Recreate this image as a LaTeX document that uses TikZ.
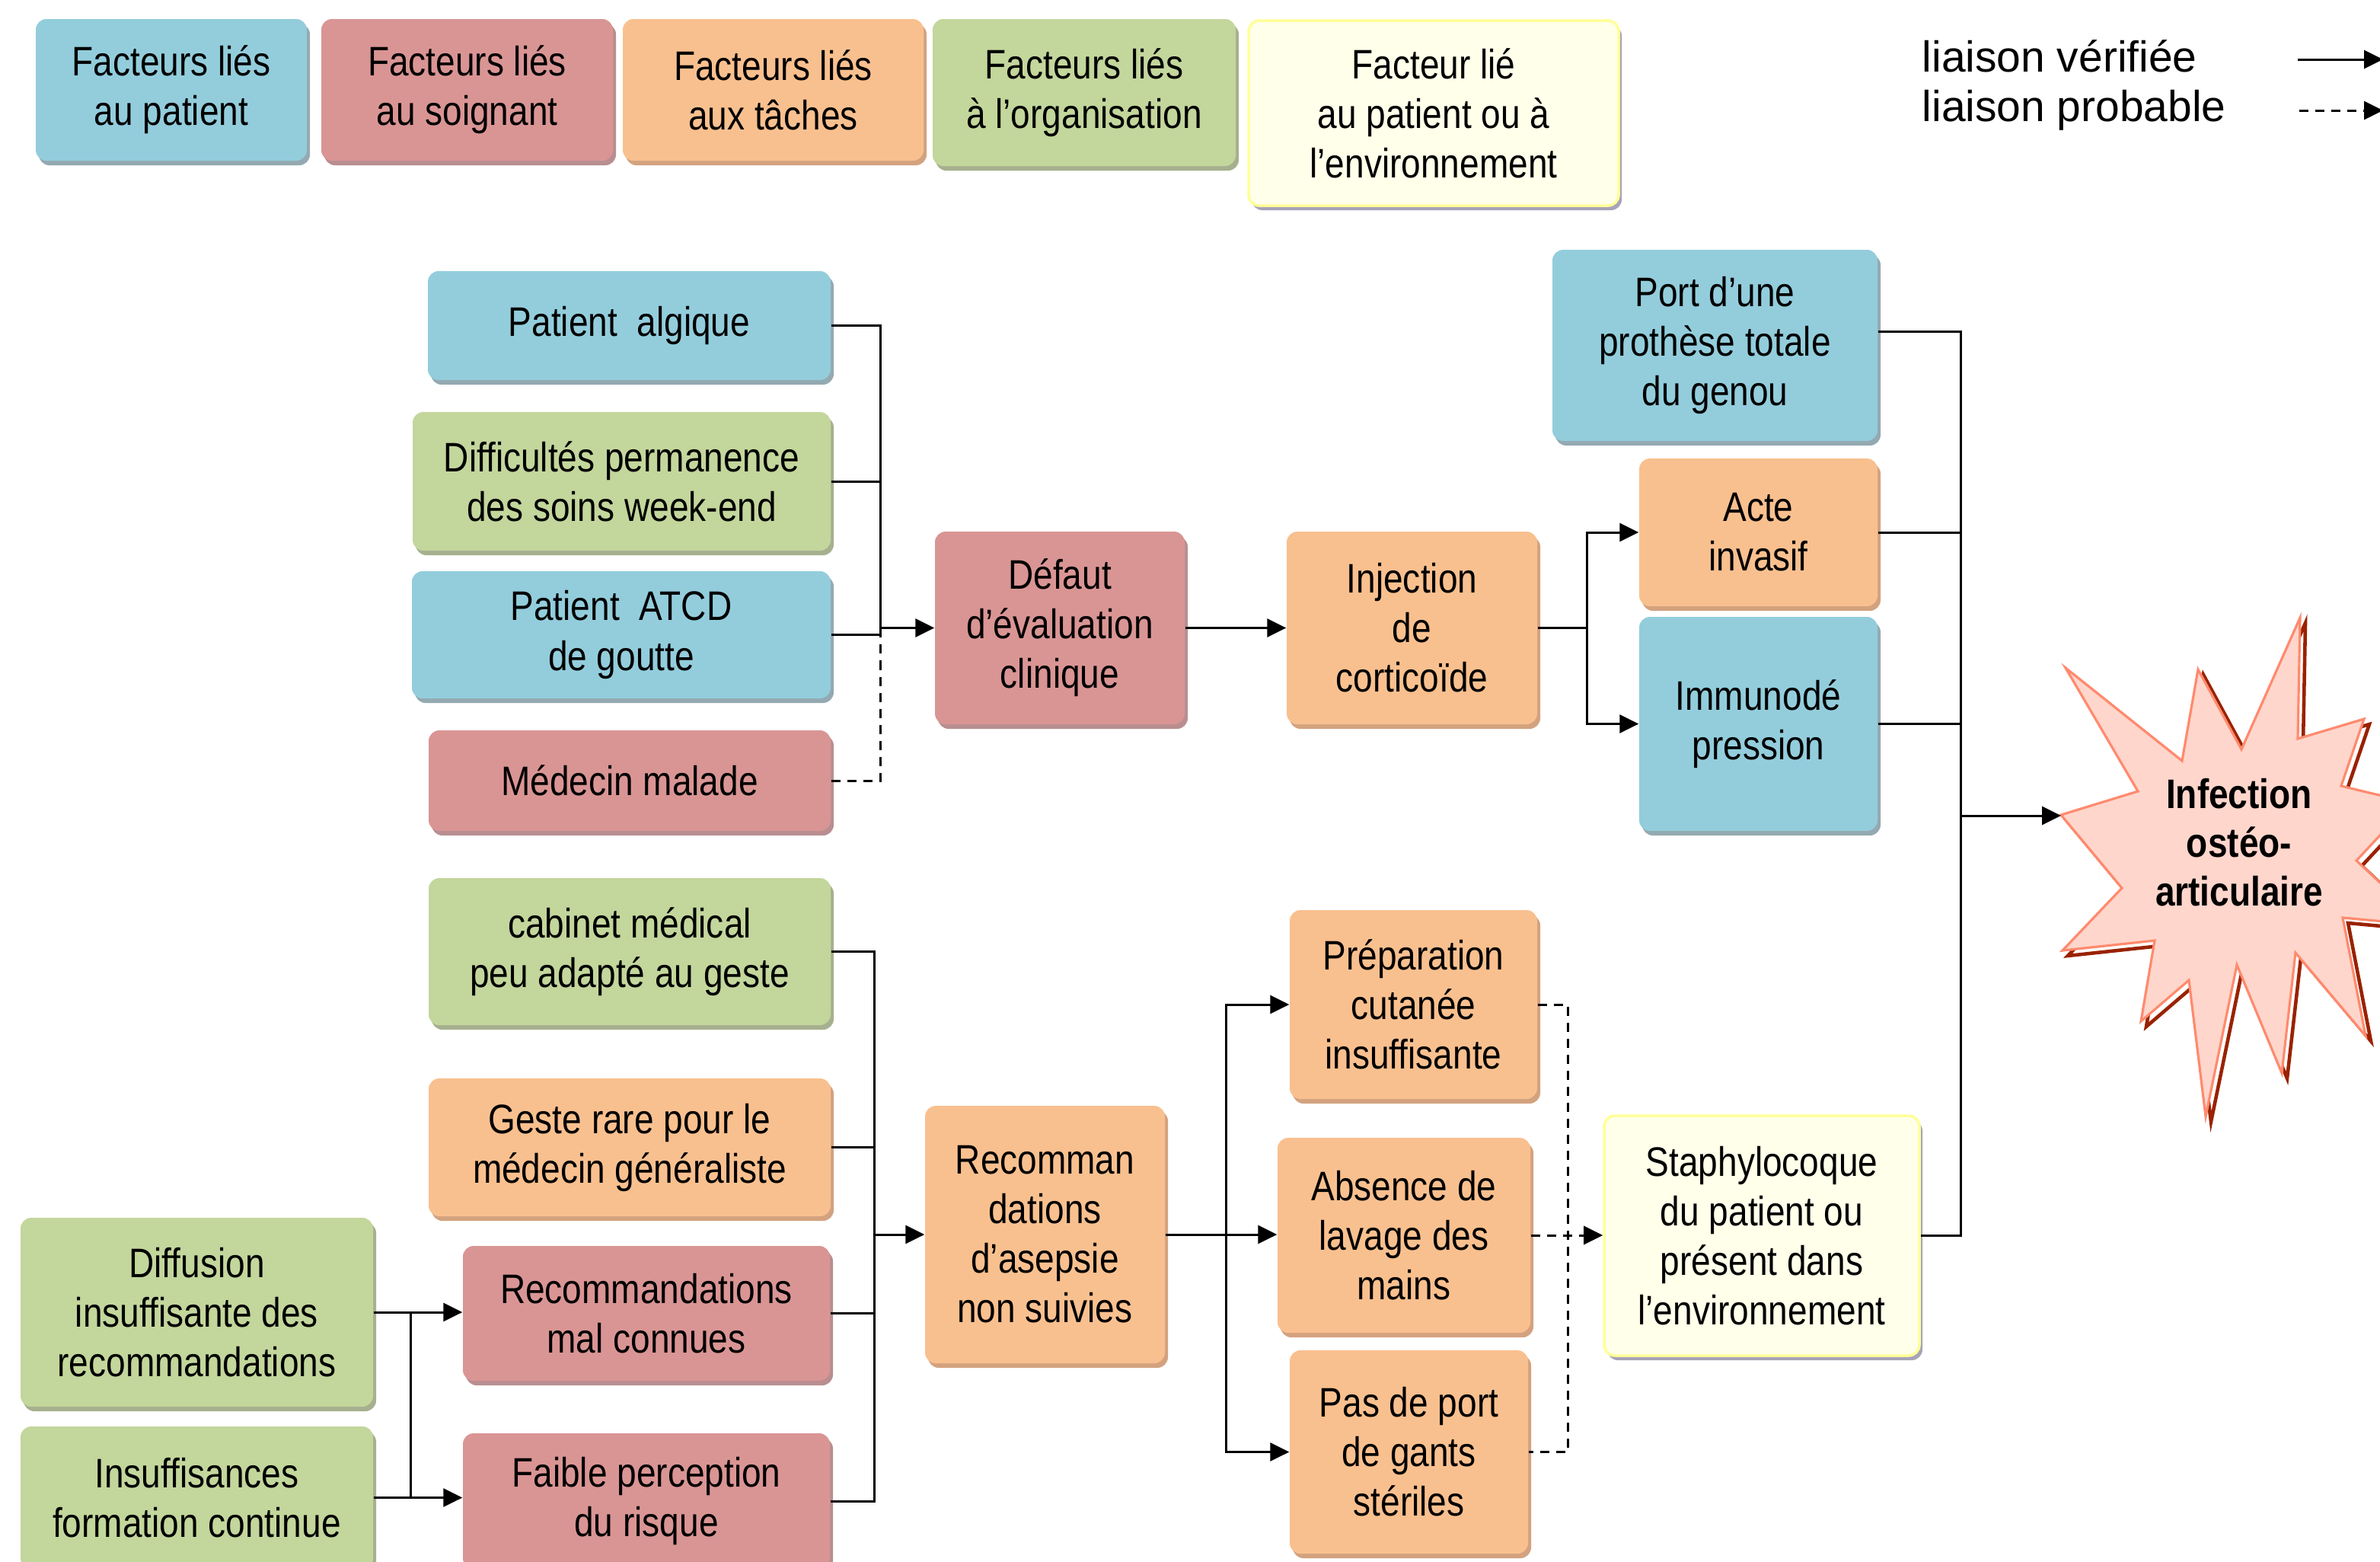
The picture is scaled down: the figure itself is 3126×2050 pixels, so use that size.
\documentclass[tikz,border=0pt]{standalone}
\usepackage{fontspec}
\setmainfont{Liberation Sans}
\newfontfamily\boxfont[FakeStretch=0.85]{Liberation Sans}
\usetikzlibrary{positioning,calc,shadows,arrows.meta}

\definecolor{patient}{HTML}{93CDDC}
\definecolor{patientsh}{HTML}{94A9B1}
\definecolor{soignant}{HTML}{D99594}
\definecolor{soignantsh}{HTML}{B98E90}
\definecolor{taches}{HTML}{F9C08F}
\definecolor{tachessh}{HTML}{D3A27F}
\definecolor{orga}{HTML}{C3D69C}
\definecolor{orgash}{HTML}{A6B08F}
\definecolor{envfill}{HTML}{FFFFEA}
\definecolor{envline}{HTML}{FFFF99}
\definecolor{envsh}{HTML}{A7A3B9}
\definecolor{starfill}{HTML}{FFD6CC}
\definecolor{starline}{HTML}{FF8A6E}
\definecolor{starshadow}{HTML}{992200}

\newcommand{\starpath}{(2707,1070) -- (2808,1039) -- (2713,877) -- (2866,999) -- (2887,879) -- (2944,984) -- (3021,811) -- (3018,970) -- (3105,944) -- (3075,1032) -- (3166,1054) -- (3095,1130) -- (3186,1215) -- (3077,1205) -- (3107,1360) -- (3015,1251) -- (2997,1409) -- (2938,1267) -- (2897,1466) -- (2875,1287) -- (2812,1341) -- (2830,1235) -- (2709,1248) -- (2787,1166) -- cycle}

\begin{document}
\begin{tikzpicture}[x=0.01cm,y=-0.01cm,>={Triangle[length=0.25cm,width=0.24cm]},
	txt/.style={font=\boxfont\fontsize{15.4pt}{18.5pt}\selectfont,align=center},
	boxsize/.style 2 args={minimum width=#1*0.01cm,minimum height=#2*0.01cm},
	box/.style={txt,rounded corners=0.14cm,inner sep=0pt},
	pat/.style={box,fill=patient,drop shadow={shadow xshift=0.04cm,shadow yshift=-0.06cm,fill=patientsh,opacity=1}},
	soi/.style={box,fill=soignant,drop shadow={shadow xshift=0.04cm,shadow yshift=-0.06cm,fill=soignantsh,opacity=1}},
	tac/.style={box,fill=taches,drop shadow={shadow xshift=0.04cm,shadow yshift=-0.06cm,fill=tachessh,opacity=1}},
	org/.style={box,fill=orga,drop shadow={shadow xshift=0.04cm,shadow yshift=-0.06cm,fill=orgash,opacity=1}},
	env/.style={box,fill=envfill,draw=envline,line width=1pt,drop shadow={shadow xshift=0.04cm,shadow yshift=-0.06cm,fill=envsh,opacity=1}},
	legtext/.style={font=\fontsize{16.2pt}{19pt}\selectfont,inner sep=0pt,anchor=base west},
	conn/.style={line width=0.85pt},
	probable/.style={dash pattern=on 0.12cm off 0.09cm}]
	\useasboundingbox (0,0) rectangle (3126,2050);
	\clip (0,0) rectangle (3126,2050);
	% legende
	\node[pat,boxsize={356}{186}] (f1) at (225,118)    {Facteurs liés\\au patient};
	\node[soi,boxsize={383}{186}] (f2) at (613.5,118)  {Facteurs liés\\au soignant};
	\node[tac,boxsize={395}{186}] (f3) at (1015.5,118) {Facteurs liés\\aux tâches};
	\node[org,boxsize={398}{193}] (f4) at (1424,121.5) {Facteurs liés\\à l’organisation};
	\node[env,boxsize={486}{243}] (f5) at (1883,148.5) {Facteur lié\\au patient ou à\\l’environnement};
	\node[legtext] (lv) at (2524,94)  {liaison vérifiée};
	\node[legtext] (lp) at (2524,159) {liaison probable};
	\coordinate (lv0) at (3018,78);  \coordinate (lv1) at (3130,78);
	\coordinate (lp0) at (3020,145); \coordinate (lp1) at (3130,145);
	\draw[conn,->] (lv0) -- (lv1);
	\draw[conn,probable,->] (lp0) -- (lp1);
	% branche haute
	\node[pat,boxsize={529}{143}] (pa) at (826.5,427.5) {Patient\ \ algique};
	\node[org,boxsize={549}{182}] (ds) at (816.5,632)   {Difficultés permanence\\des soins week-end};
	\node[pat,boxsize={550}{167}] (pg) at (816,833.5)   {Patient\ \ ATCD\\de goutte};
	\node[soi,boxsize={528}{132}] (mm) at (827,1025)    {Médecin malade};
	\node[soi,boxsize={328}{253}] (de) at (1392,824.5)  {Défaut\\d’évaluation\\clinique};
	\node[tac,boxsize={329}{253}] (ic) at (1854.5,824.5) {Injection\\de\\corticoïde};
	\node[pat,boxsize={427}{251}] (pt) at (2252.5,453.5) {Port d’une\\prothèse totale\\du genou};
	\node[tac,boxsize={313}{194}] (ai) at (2309.5,699)  {Acte\\invasif};
	\node[pat,boxsize={313}{281}] (im) at (2309.5,950.5) {Immunodé\\pression};
	% branche basse
	\node[org,boxsize={528}{193}] (cm) at (827,1249.5)  {cabinet médical\\peu adapté au geste};
	\node[tac,boxsize={528}{181}] (gr) at (827,1506.5)  {Geste rare pour le\\médecin généraliste};
	\node[org,boxsize={463}{248}] (di) at (258.5,1723)  {Diffusion\\insuffisante des\\recommandations};
	\node[org,boxsize={463}{187}] (fc) at (258.5,1966.5) {Insuffisances\\formation continue};
	\node[soi,boxsize={482}{177}] (rc) at (849,1724.5)  {Recommandations\\mal connues};
	\node[soi,boxsize={482}{178}] (fp) at (849,1971)    {Faible perception\\du risque};
	\node[tac,boxsize={315}{338}] (ra) at (1372.5,1621) {Recomman\\dations\\d’asepsie\\non suivies};
	\node[tac,boxsize={325}{248}] (pc) at (1856.5,1319) {Préparation\\cutanée\\insuffisante};
	\node[tac,boxsize={332}{256}] (lm) at (1844,1622)   {Absence de\\lavage des\\mains};
	\node[tac,boxsize={313}{267}] (gs) at (1850.5,1906.5) {Pas de port\\de gants\\stériles};
	\node[env,boxsize={414}{315}] (st) at (2314,1622.5) {Staphylocoque\\du patient ou\\présent dans\\l’environnement};
	% infection
	\draw[shift={(7,7)},line width=1.3pt,draw=starshadow] \starpath;
	\filldraw[fill=starfill,draw=starline,line width=0.9pt] \starpath;
	\node[txt,font=\boxfont\bfseries\fontsize{15.4pt}{18.2pt}\selectfont] (io) at (2941,1106) {Infection\\ostéo-\\articulaire};
	\coordinate (tip) at (2707,1071);
	% liaisons
	\coordinate (jA) at ($(de.west)+(-71,0)$);
	\coordinate (jB) at ($(ic.east)+(65,0)$);
	\coordinate (jC) at (2575,1071);
	\coordinate (jD) at ($(ra.west)+(-66,0)$);
	\coordinate (jE) at ($(ra.east)+(80,0)$);
	\coordinate (jF) at ($(st.west)+(-46,0)$);
	\coordinate (jG) at ($(di.east)+(49,0)$);
	\draw[conn] (pa.east) -| (jA |- pg.east) -- (pg.east);
	\draw[conn] (ds.east) -- (ds.east -| jA);
	\draw[conn,probable] (mm.east) -| (jA |- pg.east);
	\draw[conn,->] (jA) -- (de.west);
	\draw[conn,->] (de.east) -- (ic.west);
	\draw[conn] (ic.east) -- (jB);
	\draw[conn,->] (jB) |- (ai.west);
	\draw[conn,->] (jB) |- (im.west);
	\draw[conn] ($(pt.east)+(0,-18)$) -| (jC |- st.east) -- (st.east);
	\draw[conn] (ai.east) -- (ai.east -| jC);
	\draw[conn] (im.east) -- (im.east -| jC);
	\draw[conn,->] (jC) -- (tip);
	\draw[conn] (cm.east) -| (jD |- fp.east) -- (fp.east);
	\draw[conn] (gr.east) -- (gr.east -| jD);
	\draw[conn] (rc.east) -- (rc.east -| jD);
	\draw[conn,->] (jD) -- (ra.west);
	\draw[conn,->] (di.east) -- (di.east -| rc.west);
	\draw[conn,->] (fc.east) -- (fc.east -| fp.west);
	\draw[conn] (jG) -- (jG |- fc.east);
	\draw[conn,->] (ra.east) -- (ra.east -| lm.west);
	\draw[conn,->] (jE) |- (pc.west);
	\draw[conn,->] (jE) |- (gs.west);
	\draw[conn,probable] (pc.east) -| (jF |- gs.east) -- (gs.east);
	\draw[conn,probable,->] (lm.east) -- (lm.east -| st.west);
\end{tikzpicture}
\end{document}
